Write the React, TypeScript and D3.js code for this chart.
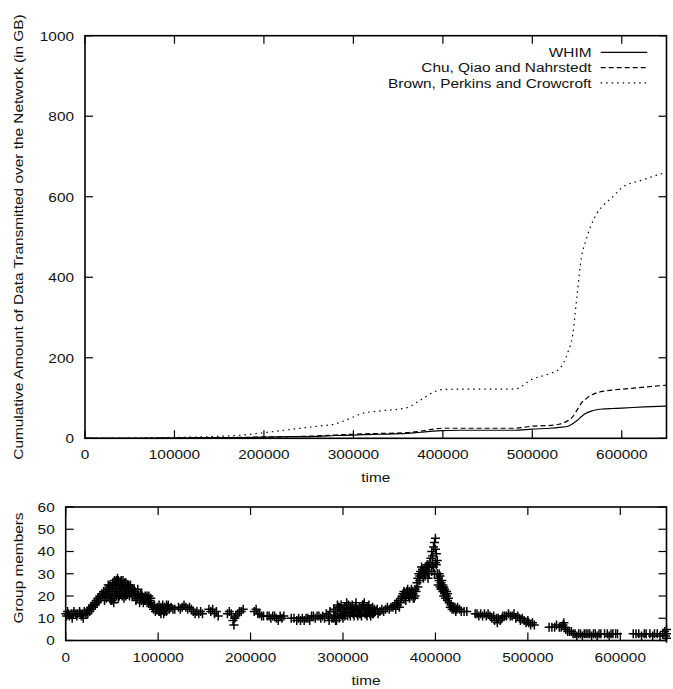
import React from "react";
import * as d3 from "d3";

// ---------- Data ----------
const cumTimes = [0, 50000, 100000, 150000, 180000, 200000, 230000, 260000, 280000, 300000, 310000, 330000, 360000, 375000, 390000, 400000, 420000, 480000, 500000, 520000, 530000, 540000, 545000, 550000, 555000, 560000, 565000, 572000, 580000, 590000, 600000, 625000, 650000];
const whim = [0, 0, 0.5, 1.5, 2, 3, 4, 5, 7, 8, 9, 10, 12, 15, 18, 19, 20, 20, 23, 25, 27, 30, 36, 44, 54, 62, 67, 71, 73, 74, 75, 78, 80];
const chu = [0, 0, 0.5, 1.5, 2.5, 3, 4, 6, 8, 10, 11, 12, 14, 18, 23, 25, 25, 25, 30, 32, 35, 44, 53, 70, 88, 98, 106, 113, 117, 120, 122, 127, 132];
const brown = [0, 0.5, 2, 5, 9, 14, 22, 30, 36, 53, 62, 68, 76, 95, 115, 121, 122, 122, 147, 161, 172, 215, 255, 355, 450, 492, 525, 558, 580, 600, 622, 643, 661];

const seriesNames = ["WHIM", "Chu, Qiao and Nahrstedt", "Brown, Perkins and Crowcroft"];
const seriesDash = ["none", "5,3", "1.5,4"];

const topYTicks = [0, 200, 400, 600, 800, 1000];
const xTicks = [0, 100000, 200000, 300000, 400000, 500000, 600000];
const bottomYTicks = [0, 10, 20, 30, 40, 50, 60];

// group members: [time in thousands, members]
const groupMembers: [number, number][] = [
  [0,12],[1,11],[2,13],[3,12],[4,11],[6,12],[7,10],[8,12],[9,13],[11,12],[12,11],[13,12],[15,13],[16,12],[17,11],[18,12],[19,10],[20,13],[22,12],[23,13],[24,12],
  [25,14],[26,13],[27,15],[28,14],[29,16],[30,15],[31,17],[32,16],[33,18],[34,17],[35,19],[36,18],[37,20],[38,19],[39,21],[40,20],[41,22],[42,20],[43,22],[44,21],[45,23],[46,22],[47,24],[48,21],[49,18],
  [50,24],[50,20],[51,22],[52,25],[52,17],[53,23],[54,26],[54,21],[55,24],[56,28],[56,22],[57,25],[58,23],[58,20],[59,26],[60,24],[61,22],[62,25],[63,23],[64,26],[64,21],[65,24],[66,22],[67,25],[68,23],[69,22],[70,24],
  [42,18],[44,19],[46,20],[48,19],[50,18],[53,19],[55,20],[57,19],[59,21],[61,20],[63,19],[65,20],[67,21],[69,20],
  [46,25],[48,25],[51,26],[53,27],[55,27],[57,27],[60,27],[62,27],[65,26],[68,25],[70,25],
  [71,21],[72,23],[73,22],[74,20],[75,22],[76,21],[77,19],[78,21],[79,20],[80,19],[81,21],[82,18],[83,20],[84,19],[85,18],[86,20],[87,19],[88,17],[89,19],[90,20],[91,18],[92,19],
  [72,20],[74,23],[76,18],[78,23],[80,17],[82,21],[84,17],[86,18],[88,20],[90,17],[92,17],
  [93,16],[94,15],[95,14],[96,16],[97,13],[98,14],[99,15],
  [100,14],[101,16],[102,13],[103,15],[104,14],[105,16],[106,12],[107,15],[108,14],[109,16],[110,15],[112,14],[114,15],[116,14],[118,14],
  [101,13],[103,12],[105,14],[107,13],[109,13],[111,16],
  [122,15],[124,14],[126,15],[128,16],[130,15],[132,14],[134,15],[136,14],
  [138,13],[140,12],[142,13],[144,12],[146,13],[148,12],
  [155,14],[157,13],[159,14],[161,12],[163,13],[165,11],
  [175,12],[177,13],[179,12],[181,9],[182,7],[183,10],[184,11],[186,12],[188,13],[190,13],[192,14],
  [204,13],[206,14],[208,12],[210,12],[212,11],[214,11],
  [218,11],[220,11],[222,10],[224,11],[226,11],[228,10],[230,9],[232,11],[234,10],[236,11],
  [244,10],[247,10],[250,9],[252,10],[254,9],[256,10],[258,9],[260,10],[262,10],[264,9],[266,11],
  [268,11],[270,10],[272,11],[274,11],[276,10],[278,11],[280,10],[282,12],[284,11],[285,9],[286,13],[288,10],[290,14],
  [291,11],[292,13],[293,9],[294,12],[295,15],[296,10],[297,13],[298,16],[299,11],[300,14],[301,12],[302,15],[303,13],[304,17],[305,11],[306,14],[307,12],[308,15],[309,13],[310,14],
  [311,12],[312,14],[313,13],[314,15],[315,12],[316,14],[317,13],[318,15],[319,12],[320,14],[321,16],[322,13],[323,17],[324,14],[325,12],[326,15],[327,13],[328,14],[329,12],[330,14],[331,13],[332,15],[333,12],
  [290,10],[292,9],[294,16],[296,15],[298,12],[300,10],[302,11],[304,14],[306,16],[308,11],[310,16],[312,11],[314,17],[316,11],[318,12],[320,11],[322,16],[324,12],[326,11],[328,16],[330,11],[332,12],[334,14],
  [335,13],[337,14],[338,12],[340,13],[342,14],[344,13],[346,14],[348,15],[350,14],[352,15],[354,15],
  [356,16],[357,14],[358,17],[359,16],[360,18],[361,15],[362,17],[363,19],
  [364,20],[365,21],[366,19],[367,21],[368,20],[369,22],[370,21],[371,20],[372,22],[373,21],[374,20],[375,22],[376,21],[377,19],[378,23],[379,22],
  [366,22],[368,18],[370,23],[372,19],[374,23],[376,19],[378,20],
  [380,26],[381,28],[382,30],[383,29],[384,31],[385,30],[386,32],[387,31],[388,30],[389,33],[390,32],[391,31],[392,34],[393,33],
  [381,24],[383,27],[385,33],[387,28],[389,29],[391,34],[393,30],[392,28],
  [394,35],[395,37],[396,40],[397,38],[398,42],[399,44],[400,46],[400,41],[401,39],[401,34],[402,36],[398,33],[399,30],[402,30],[403,28],[400,35],[397,34],[396,31],
  [403,25],[404,27],[405,24],[406,26],[407,23],[408,22],[409,24],[410,21],[411,22],[412,20],[413,21],[414,19],
  [404,30],[405,29],[406,23],[407,27],[408,25],[409,20],[410,23],[411,19],[412,22],[413,18],
  [415,17],[416,15],[417,16],[418,14],[419,15],[420,14],[421,15],[422,13],[423,14],[424,15],[426,14],[428,13],[431,13],[434,13],
  [443,12],[445,12],[447,11],[449,12],[451,11],[453,12],[455,11],[457,12],[459,11],
  [461,10],[463,11],[464,9],[466,10],[467,8],[468,10],[470,9],[472,10],[473,11],
  [475,11],[477,11],[479,12],[481,11],[483,11],[485,12],[487,10],
  [489,11],[491,10],[492,9],[494,10],[496,9],[498,8],[500,9],
  [501,8],[503,7],[505,8],[507,7],
  [523,6],[526,6],[529,6],[531,7],
  [534,6],[536,6],[538,7],[539,8],[540,6],[541,5],
  [543,4],[545,4],[547,4],[549,3],
  [551,3],[553,2],[555,3],[557,3],[559,2],[561,3],[563,3],[565,3],[567,3],[569,2],[571,3],[573,3],[575,2],[577,3],[579,3],[583,3],[586,3],[588,2],[590,3],[592,3],[595,3],[597,3],
  [614,3],[617,3],[620,3],[623,2],[626,3],[628,3],[632,3],[635,2],[637,3],[640,3],[643,2],[646,3],[648,4],[649,2],[650,3],[650,1],[650,5]
];

// ---------- Layout ----------
const W = 673, H = 689;
const FONT = "'Liberation Sans', Arial, Helvetica, sans-serif";
const FS = 13.5;
const SX = 1.14;
const TICK = 8;

const top = { left: 85, right: 666.5, top: 35.7, bottom: 438.3 };
const bot = { left: 65.7, right: 666.5, top: 507, bottom: 640.5 };

function T(props: { x: number; y: number; anchor?: string; rot?: number; children: React.ReactNode }) {
  const { x, y, anchor = "middle", rot = 0, children } = props;
  return (
    <text
      transform={`translate(${x},${y}) rotate(${rot}) scale(${SX},1)`}
      textAnchor={anchor}
      fontFamily={FONT}
      fontSize={FS}
      fill="#111"
    >
      {children}
    </text>
  );
}

function Frame(props: { box: typeof top; xs: d3.ScaleLinear<number, number>; ys: d3.ScaleLinear<number, number>; yTicks: number[] }) {
  const { box, xs, ys, yTicks } = props;
  return (
    <g>
      {xTicks.map((t) => (
        <g key={"x" + t}>
          <line x1={xs(t)} x2={xs(t)} y1={box.bottom} y2={box.bottom - TICK} stroke="#000" strokeWidth={1.2} />
          <line x1={xs(t)} x2={xs(t)} y1={box.top} y2={box.top + TICK} stroke="#000" strokeWidth={1.2} />
          <T x={xs(t)} y={box.bottom + 21}>{String(t)}</T>
        </g>
      ))}
      {yTicks.map((v) => (
        <g key={"y" + v}>
          <line x1={box.left} x2={box.left + TICK} y1={ys(v)} y2={ys(v)} stroke="#000" strokeWidth={1.2} />
          <line x1={box.right} x2={box.right - TICK} y1={ys(v)} y2={ys(v)} stroke="#000" strokeWidth={1.2} />
          <T x={box.left - 11} y={ys(v) + 4.8} anchor="end">{String(v)}</T>
        </g>
      ))}
      <rect x={box.left} y={box.top} width={box.right - box.left} height={box.bottom - box.top} fill="none" stroke="#000" strokeWidth={1.6} />
    </g>
  );
}

export default function App() {
  const xTop = d3.scaleLinear().domain([0, 650000]).range([top.left, top.right]);
  const yTop = d3.scaleLinear().domain([0, 1000]).range([top.bottom, top.top]);
  const xBot = d3.scaleLinear().domain([0, 650000]).range([bot.left, bot.right]);
  const yBot = d3.scaleLinear().domain([0, 60]).range([bot.bottom, bot.top]);

  const seriesData = [whim, chu, brown];
  const line = d3
    .line<[number, number]>()
    .x((d) => xTop(d[0]))
    .y((d) => yTop(d[1]))
    .curve(d3.curveMonotoneX);

  const legendRows = [52.3, 67.6, 82.9];

  return (
    <svg width={W} height={H} style={{ position: "absolute", left: 0, top: 0, background: "#fff" }}>
      <rect x={0} y={0} width={W} height={H} fill="#fff" />
      {/* Top chart */}
      {seriesData.map((vals, i) => (
        <path
          key={i}
          d={line(cumTimes.map((t, j) => [t, vals[j]] as [number, number])) || ""}
          fill="none"
          stroke="#000"
          strokeWidth={1.2}
          strokeDasharray={seriesDash[i]}
        />
      ))}
      <Frame box={top} xs={xTop} ys={yTop} yTicks={topYTicks} />
      {seriesNames.map((n, i) => (
        <g key={n}>
          <T x={591.5} y={legendRows[i] + 4.7} anchor="end">{n}</T>
          <line x1={600.7} x2={647.3} y1={legendRows[i]} y2={legendRows[i]} stroke="#000" strokeWidth={1.2} strokeDasharray={seriesDash[i]} />
        </g>
      ))}
      <T x={(top.left + top.right) / 2} y={482}>time</T>
      <T x={23} y={(top.top + top.bottom) / 2} rot={-90}>Cumulative Amount of Data Transmitted over the Network (in GB)</T>

      {/* Bottom chart */}
      <g>
        {groupMembers.map(([tk, v], i) => {
          const cx = xBot(tk * 1000);
          const cy = yBot(v);
          return (
            <path key={i} d={`M${cx - 4.5},${cy}H${cx + 4.5}M${cx},${cy - 4.5}V${cy + 4.5}`} stroke="#000" strokeWidth={1.5} fill="none" />
          );
        })}
      </g>
      <Frame box={bot} xs={xBot} ys={yBot} yTicks={bottomYTicks} />
      <T x={(bot.left + bot.right) / 2} y={685}>time</T>
      <T x={23} y={568} rot={-90}>Group members</T>
    </svg>
  );
}
